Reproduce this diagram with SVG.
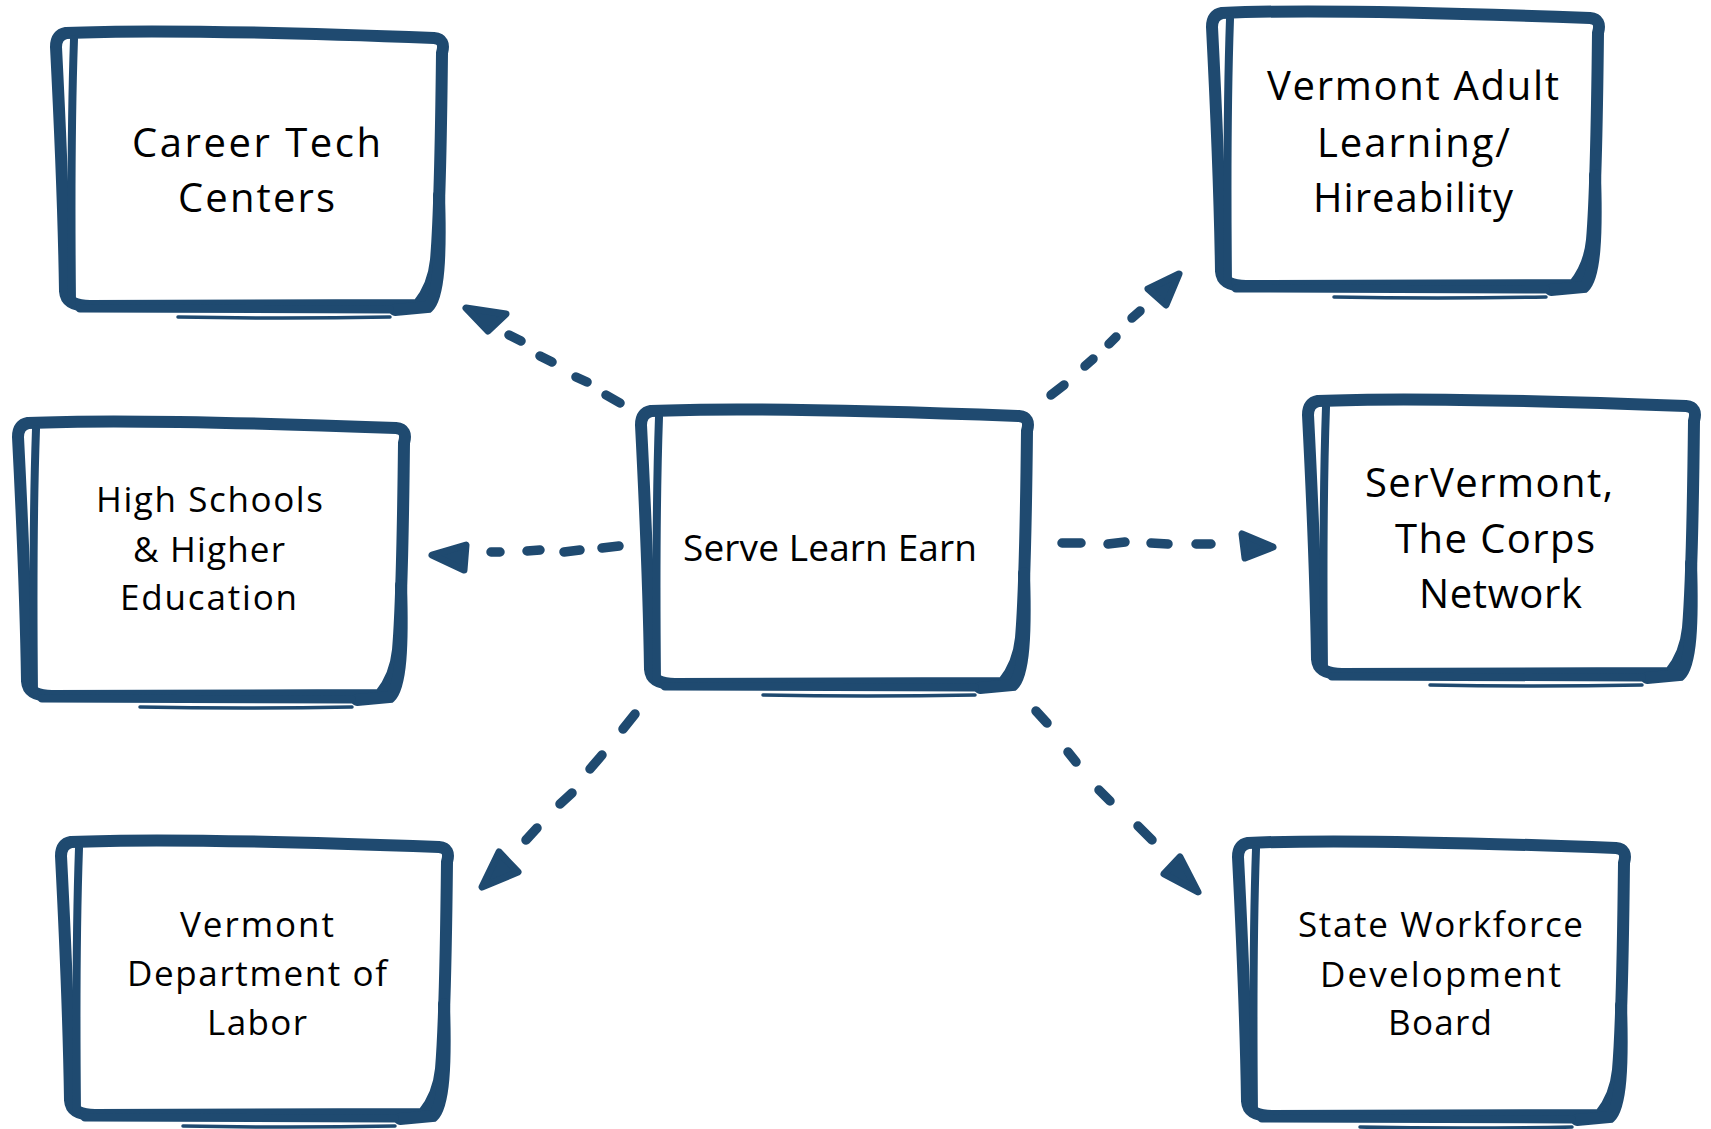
<svg xmlns="http://www.w3.org/2000/svg" xmlns:xlink="http://www.w3.org/1999/xlink" width="1711" height="1129" viewBox="0 0 1711 1129">
  <style>
    .b1 { fill: none; stroke: #1f4a70; stroke-width: 12; stroke-linejoin: round; stroke-linecap: round; }
    .b2 { fill: none; stroke: #1f4a70; stroke-width: 8; stroke-linecap: round; }
    .b3 { fill: none; stroke: #1f4a70; stroke-width: 12; stroke-linecap: round; }
    .b4 { fill: none; stroke: #1f4a70; stroke-width: 3.5; stroke-linecap: round; }
    .b5 { fill: none; stroke: #1f4a70; stroke-width: 8; stroke-linecap: round; }
    .dash { fill: none; stroke: #1f4a70; stroke-width: 9.5; stroke-linecap: round; }
    .head { fill: #1f4a70; stroke: #1f4a70; stroke-width: 7; stroke-linejoin: round; }
    text { font-family: "Open Sans", "Liberation Sans", sans-serif; fill: #000; text-anchor: middle; }
    .t40 { font-size: 40px; }
    .t37 { font-size: 37px; }
    .t35 { font-size: 35px; }
  </style>
  <defs>
    <g id="box">
      <path class="b1" d="M16,8 C100,4 250,8 384,13 Q396,14 392,28 C391,120 389,200 386,235 C384,255 378,268 368,280 L40,281 Q16,281 15,266 C14,200 10,100 6,22 Q6,10 16,8 Z"/>
      <path class="b2" d="M24,14 C21,100 21,180 22,278"/>
      <path class="b3" d="M389,170 C391,230 389,272 378,282 L345,285"/>
      <path class="b5" d="M30,283.5 L340,284.5"/>
      <path class="b4" d="M128,292 Q230,294 340,292"/>
    </g>
  </defs>
  <rect x="0" y="0" width="1711" height="1129" fill="#fff"/>

  <g id="connectors">
    <g id="c-ct">
      <path class="dash" d="M620,403 L606,395 M587,382 L576,377 M552,362 L540,356 M521,341 L509,335"/>
      <polygon class="head" points="466,308 506,314 488,331"/>
    </g>
    <g id="c-val">
      <path class="dash" d="M1051,395 L1064,385 M1085,366 L1093,359 M1109,344 L1116,337 M1132,318 L1140,311"/>
      <polygon class="head" points="1179,274 1148,289 1166,305"/>
    </g>
    <g id="c-hs">
      <path class="dash" d="M491,552 L500,552 M527,551 L540,550 M564,552 L580,550 M602,548 L619,546"/>
      <polygon class="head" points="432,555 466,545 464,570"/>
    </g>
    <g id="c-sv">
      <path class="dash" d="M1062,543 L1081,543 M1108,544 L1125,542 M1151,543 L1168,544 M1196,544 L1211,544"/>
      <polygon class="head" points="1242,534 1245,558 1273,547"/>
    </g>
    <g id="c-vdl">
      <path class="dash" d="M635,714 L623,729 M602,755 L590,769 M572,793 L560,804 M537,828 L526,840"/>
      <polygon class="head" points="482,887 499,852 518,872"/>
    </g>
    <g id="c-swdb">
      <path class="dash" d="M1036,711 L1047,723 M1068,752 L1076,762 M1099,790 L1110,801 M1138,826 L1152,840"/>
      <polygon class="head" points="1164,874 1180,857 1198,892"/>
    </g>
  </g>

  <g id="node-ct">
    <use xlink:href="#box" href="#box" x="50" y="25"/>
    <text class="t40" x="256.5" y="157" textLength="249">Career Tech</text>
    <text class="t40" x="256.5" y="212" textLength="157">Centers</text>
  </g>
  <g id="node-val">
    <use xlink:href="#box" href="#box" x="1206" y="5"/>
    <text class="t40" x="1413" y="100" textLength="292">Vermont Adult</text>
    <text class="t40" x="1413.5" y="157" textLength="193">Learning/</text>
    <text class="t40" x="1413" y="212" textLength="200">Hireability</text>
  </g>
  <g id="node-hs">
    <use xlink:href="#box" href="#box" x="12" y="415"/>
    <text class="t35" x="209.5" y="512" textLength="227">High Schools</text>
    <text class="t35" x="209" y="562" textLength="152">&amp; Higher</text>
    <text class="t35" x="208.5" y="610" textLength="177">Education</text>
  </g>
  <g id="node-sle">
    <use xlink:href="#box" href="#box" x="635" y="403"/>
    <text class="t37" x="830" y="561" textLength="294">Serve Learn Earn</text>
  </g>
  <g id="node-sv">
    <use xlink:href="#box" href="#box" x="1302" y="393"/>
    <text class="t40" x="1489" y="497" textLength="248">SerVermont,</text>
    <text class="t40" x="1495" y="553" textLength="200">The Corps</text>
    <text class="t40" x="1500.5" y="608" textLength="163">Network</text>
  </g>
  <g id="node-vdl">
    <use xlink:href="#box" href="#box" x="55" y="834"/>
    <text class="t35" x="257" y="937" textLength="154">Vermont</text>
    <text class="t35" x="257" y="986" textLength="260">Department of</text>
    <text class="t35" x="257" y="1035" textLength="100">Labor</text>
  </g>
  <g id="node-swdb">
    <use xlink:href="#box" href="#box" x="1232" y="835"/>
    <text class="t35" x="1440.5" y="937" textLength="285">State Workforce</text>
    <text class="t35" x="1440.5" y="987" textLength="241">Development</text>
    <text class="t35" x="1440" y="1035" textLength="104">Board</text>
  </g>
</svg>
